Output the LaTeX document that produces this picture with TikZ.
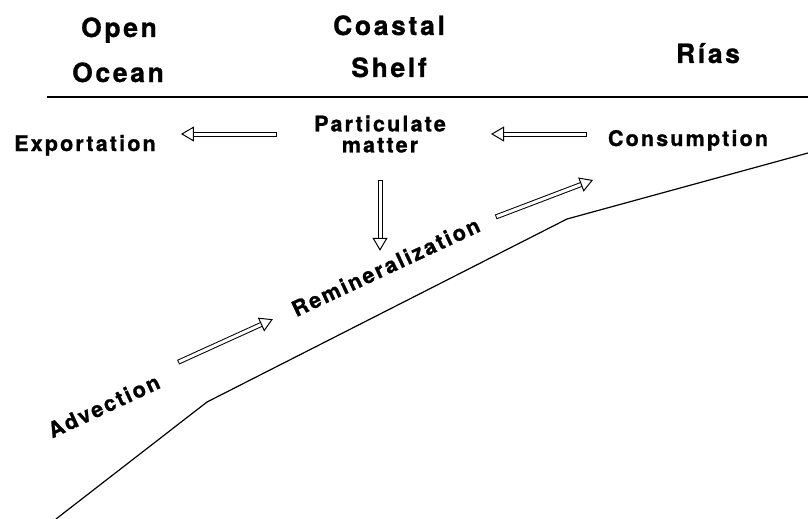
\documentclass[tikz,border=0pt]{standalone}
\usepackage{fontspec}
\newfontfamily\diagfont{TeX Gyre Heros}[LetterSpace=10, FakeBold=1]
\usepackage{tikz}
\tikzstyle{head} = [font=\diagfont\bfseries\fontsize{26.5}{28}\selectfont,
    anchor=base, inner sep=0pt]
\tikzstyle{proc} = [font=\diagfont\bfseries\fontsize{21.5}{21}\selectfont,
    anchor=base, inner sep=0pt]
\tikzstyle{flow} = [double, double distance=3pt, line width=1pt, line cap=rect,
    -{Triangle[length=13pt, width=15pt, fill=white]}]
\usetikzlibrary{calc}
\usetikzlibrary{arrows.meta}
\usetikzlibrary{positioning}

\begin{document}
\begin{tikzpicture}[x=1pt, y=-1pt]
    \useasboundingbox (0,0) rectangle (808,519);

    \node[head] (open) at (119,37) {Open};
    \node[head] (ocean) at (118,82) {Ocean};
    \node[head] (coastal) at (389,35) {Coastal};
    \node[head] (shelf) at (389,77) {Shelf};
    \node[head] (rias) at (708,63) {Rías};

    \draw[line width=2.4pt] (47,97) -- (808,97);

    \node[proc] (export) at (85,151) {Exportation};
    \node[proc, anchor=center, align=center] (partic) at (380,134) {Particulate\\matter};
    \node[proc] (consum) at (688,146) {Consumption};

    \node[proc, rotate=25] (remin) at (389,274) {Remineralization};
    \node[proc, rotate=25] (adv) at (107,413) {Advection};

    \draw[flow, shorten <=39pt, shorten >=25pt] (partic.west) -- (partic.west -| export.east);
    \draw[flow, shorten <=23pt, shorten >=45pt] (partic.east -| consum.west) -- (partic.east);
    \draw[flow, shorten <=30pt, shorten >=16pt] (partic.south) -- (partic.south |- remin.center);
    \draw[flow, shorten <=28pt, shorten >=22pt] (adv.north east) -- (remin.west);
    \coordinate (rise) at (593,180);
    \draw[flow, shorten <=21pt] (remin.east) -- (rise);

    % sea floor
    \draw[line width=1.2pt] (56,519) -- (207,402) -- (567,219) -- (808,153);
\end{tikzpicture}
\end{document}
